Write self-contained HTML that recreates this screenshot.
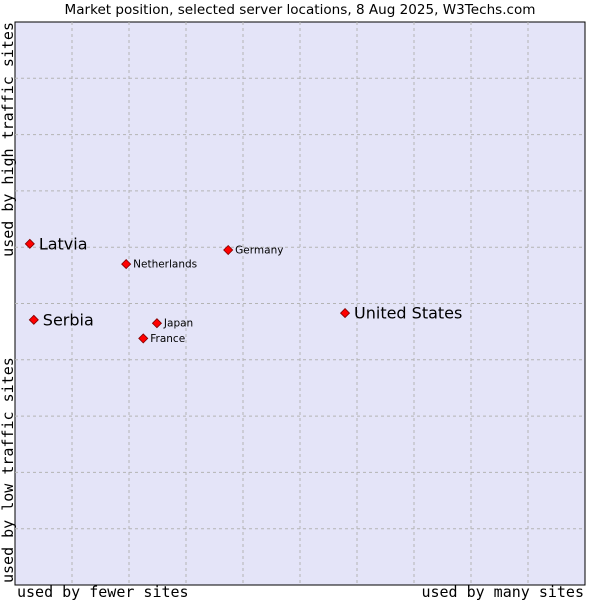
<!DOCTYPE html>
<html><head><meta charset="utf-8"><style>
body{margin:0;background:#fff;}
svg{display:block;font-family:"DejaVu Sans","Liberation Sans",sans-serif;}
.mono{font-family:"DejaVu Sans Mono","Liberation Mono",monospace;}
</style></head><body>
<svg id="chart" width="600" height="600">
<text x="300" y="14" text-anchor="middle" font-size="13" textLength="471" lengthAdjust="spacingAndGlyphs" fill="#000">Market position, selected server locations, 8 Aug 2025, W3Techs.com</text>
<rect x="15" y="22" width="570" height="563" fill="#e4e4f8" stroke="#000" stroke-width="1"/>
<g id="grid"></g>
<text class="mono" x="17" y="597" font-size="15">used by fewer sites</text>
<text class="mono" x="584" y="597" font-size="15" text-anchor="end">used by many sites</text>
<text class="mono" transform="translate(13,22) rotate(-90)" font-size="15" text-anchor="end">used by high traffic sites</text>
<text class="mono" transform="translate(13,583) rotate(-90)" font-size="15">used by low traffic sites</text>
<g id="points"></g>
</svg>
<script>
const names = ["Latvia","Netherlands","Germany","United States","Serbia","Japan","France"];
const xValues = [2.6,19.5,37.4,57.9,3.3,24.9,22.5];
const yValues = [60.6,57.0,59.5,48.3,47.1,46.5,43.8];
const bigLabel = [true,false,false,true,true,false,false];
const L=15,T=22,W=570,H=563;
const sx=v=>L+v/100*W, sy=v=>T+H-v/100*H;
const NS="http://www.w3.org/2000/svg";
const grid=document.getElementById('grid');
for(let i=1;i<10;i++){
  const a=document.createElementNS(NS,'line');
  a.setAttribute('x1',sx(i*10));a.setAttribute('x2',sx(i*10));a.setAttribute('y1',T);a.setAttribute('y2',T+H);
  a.setAttribute('stroke','#b4b4b4');a.setAttribute('stroke-dasharray','3,3');
  
  
  grid.appendChild(a);
  const b=document.createElementNS(NS,'line');
  b.setAttribute('y1',sy(i*10));b.setAttribute('y2',sy(i*10));b.setAttribute('x1',L);b.setAttribute('x2',L+W);
  b.setAttribute('stroke','#b4b4b4');b.setAttribute('stroke-dasharray','3,3');
  
  
  grid.appendChild(b);
}
const pts=document.getElementById('points');
names.forEach((n,i)=>{
  const x=sx(xValues[i]),y=sy(yValues[i]);
  const d=document.createElementNS(NS,'polygon');
  d.setAttribute('points',`${x},${y-4.5} ${x+4.5},${y} ${x},${y+4.5} ${x-4.5},${y}`);
  d.setAttribute('fill','#ff0000');d.setAttribute('stroke','#800000');d.setAttribute('stroke-width','0.8');
  
  
  pts.appendChild(d);
  const t=document.createElementNS(NS,'text');
  const big=bigLabel[i];
  t.setAttribute('x',x+(big?9:7));t.setAttribute('y',y+(big?5.5:3.5));
  t.setAttribute('font-size',big?16:10.5);
  t.textContent=n;
  
  
  pts.appendChild(t);
});
</script>
</body></html>
